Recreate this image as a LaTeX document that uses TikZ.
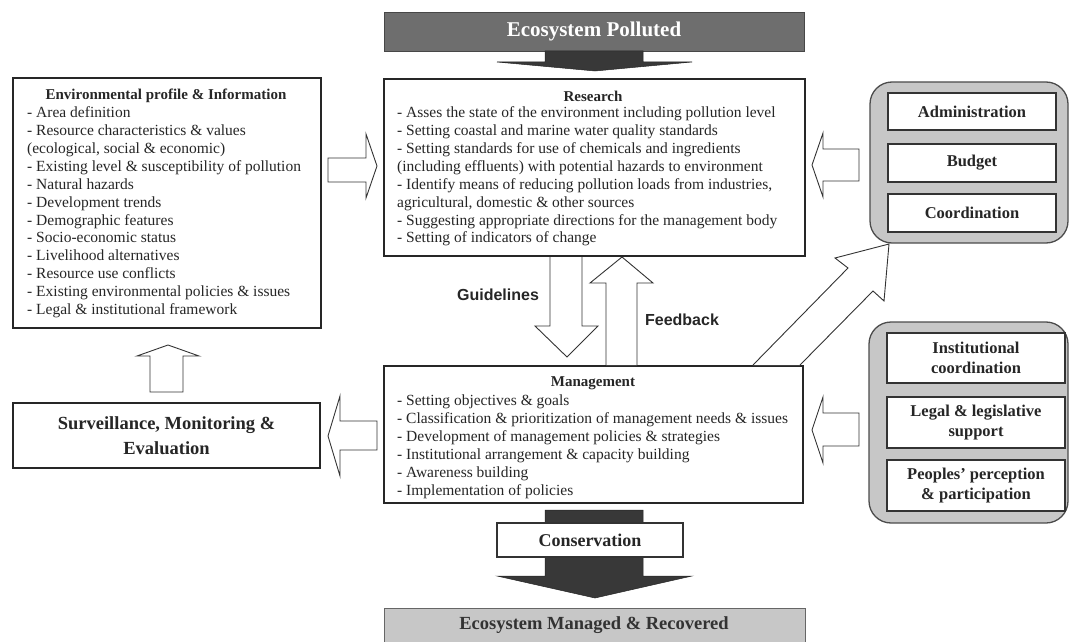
\documentclass[tikz,border=0pt]{standalone}
\usepackage{fontspec}
\setmainfont{Liberation Serif}
\newfontfamily\labelsans{Liberation Sans}
\begin{document}
\begin{tikzpicture}[x=1pt,y=-1pt,
  body/.style={font=\fontsize{15.5}{17.9}\selectfont, text=black!85, inner sep=0pt, align=left},
  ttl/.style={font=\fontsize{15}{18}\selectfont\bfseries, text=black!85, inner sep=0pt},
  bigbox/.style={draw=black!85, line width=1.6pt, fill=white, rectangle, inner sep=0pt},
  blk/.style={draw=black!80, line width=0.9pt, fill=white, line join=miter},
  darkarrow/.style={fill=black!78, draw=black!85, line width=0.5pt},
  grp/.style={draw=black!70, line width=1.3pt, fill=black!22, rounded corners=22pt, rectangle, inner sep=0pt},
  inbox/.style={draw=black!80, line width=1.2pt, fill=white, rectangle, font=\fontsize{16.5}{19.3}\selectfont\bfseries, align=center, inner sep=0pt, text=black!85},
  flowlabel/.style={font=\labelsans\fontsize{16}{18}\selectfont\bfseries, text=black!85, inner sep=0pt},
]
\useasboundingbox (0,0) rectangle (1071,642);

% ---- top banner
\node[rectangle, fill=black!57, draw=black!72, line width=0.8pt, minimum width=420pt, minimum height=39pt, inner sep=0pt] (top) at (594,31.5) {};
\node[font=\fontsize{21}{23}\selectfont\bfseries, text=white, inner sep=0pt] (toptxt) at (594,31) {Ecosystem Polluted};
\filldraw[darkarrow] (545,51) -- (545,62) -- (497,62) -- (595,71) -- (692,62) -- (643,62) -- (643,51) -- cycle;

% ---- main boxes
\node[bigbox, minimum width=308pt, minimum height=250pt] (env) at (167,203) {};
\node[ttl] (envt) at (166,96) {Environmental profile \& Information};
\node[body, anchor=north west] (envl) at (27,106.5) {- Area definition\\
- Resource characteristics \& values\\
(ecological, social \& economic)\\
- Existing level \& susceptibility of pollution\\
- Natural hazards\\
- Development trends\\
- Demographic features\\
- Socio-economic status\\
- Livelihood alternatives\\
- Resource use conflicts\\
- Existing environmental policies \& issues\\
- Legal \& institutional framework};

\node[bigbox, minimum width=421pt, minimum height=177pt] (res) at (594.5,167.5) {};
\node[ttl] (rest) at (593,96) {Research};
\node[body, anchor=north west] (resl) at (397,106.5) {- Asses the state of the environment including pollution level\\
- Setting coastal and marine water quality standards\\
- Setting standards for use of chemicals and ingredients\\
(including effluents) with potential hazards to environment\\
- Identify means of reducing pollution loads from industries,\\
agricultural, domestic \& other sources\\
- Suggesting appropriate directions for the management body\\
- Setting of indicators of change};

\node[bigbox, minimum width=419pt, minimum height=137pt] (man) at (593.5,434.5) {};
\node[ttl] (mant) at (593,383) {Management};
\node[body, anchor=north west] (manl) at (397,395) {- Setting objectives \& goals\\
- Classification \& prioritization of management needs \& issues\\
- Development of management policies \& strategies\\
- Institutional arrangement \& capacity building\\
- Awareness building\\
- Implementation of policies};

\node[bigbox, minimum width=307pt, minimum height=65pt, font=\fontsize{18.5}{25}\selectfont\bfseries, align=center, text=black!85] (surv) at (166.5,435.5) {Surveillance, Monitoring \&\\Evaluation};

% ---- right groups
\node[grp, minimum width=198pt, minimum height=161pt] (g1) at (969,162.5) {};
\node[inbox, minimum width=168pt, minimum height=37pt] (adm) at (972,111.5) {Administration};
\node[inbox, minimum width=168pt, minimum height=38pt] (bud) at (972,163) {Budget};
\node[inbox, minimum width=168pt, minimum height=38pt] (coo) at (972,213) {Coordination};

\node[grp, minimum width=199pt, minimum height=201pt] (g2) at (968.5,422.5) {};
\node[inbox, minimum width=178pt, minimum height=50pt] (inst) at (976,358) {Institutional\\coordination};
\node[inbox, minimum width=178pt, minimum height=51pt] (leg) at (976,422.5) {Legal \& legislative\\support};
\node[inbox, minimum width=178pt, minimum height=51pt] (peo) at (976,485.5) {Peoples' perception\\\& participation};

% ---- block arrows
\filldraw[blk] (328,158) -- (366,158) -- (366,134) -- (377,166) -- (366,198) -- (366,182) -- (328,182) -- cycle;
\filldraw[blk] (859,149) -- (823,149) -- (823,133) -- (812,165) -- (823,197) -- (823,181) -- (859,181) -- cycle;
\filldraw[blk] (859,413) -- (823,413) -- (823,397) -- (812,430) -- (823,463) -- (823,446) -- (859,446) -- cycle;
\filldraw[blk] (377,421) -- (340,421) -- (340,396) -- (328,436) -- (340,476) -- (340,450) -- (377,450) -- cycle;
\filldraw[blk] (150,392) -- (150,356) -- (137,356) -- (168,345) -- (199,356) -- (183,356) -- (183,392) -- cycle;
\filldraw[blk] (550,257) -- (550,326) -- (535,326) -- (567,357) -- (598,326) -- (582,326) -- (582,257);
\filldraw[blk] (606,365) -- (606,283) -- (590,283) -- (622,257) -- (653,283) -- (637,283) -- (637,365);
\filldraw[blk] (753,365) -- (848,268) -- (835,258) -- (889,244) -- (884,301) -- (873,291) -- (800,365);

\node[flowlabel] (guide) at (498,295) {Guidelines};
\node[flowlabel] (feed) at (682,320) {Feedback};

% ---- conservation
\filldraw[darkarrow] (545,510) -- (545,576) -- (497,576) -- (595,598) -- (692,576) -- (643,576) -- (643,510) -- cycle;
\node[rectangle, draw=black!80, line width=1.2pt, fill=white, minimum width=186pt, minimum height=34pt, font=\fontsize{18}{20}\selectfont\bfseries, text=black!85, inner sep=0pt] (cons) at (590,540) {Conservation};

% ---- bottom banner
\node[rectangle, fill=black!22, draw=black!60, line width=0.8pt, minimum width=421pt, minimum height=36pt, inner sep=0pt, anchor=north] (bot) at (594.5,608) {};
\node[font=\fontsize{18.5}{20}\selectfont\bfseries, text=black!80, inner sep=0pt] (bottxt) at (594,625) {Ecosystem Managed \& Recovered};
\end{tikzpicture}
\end{document}
